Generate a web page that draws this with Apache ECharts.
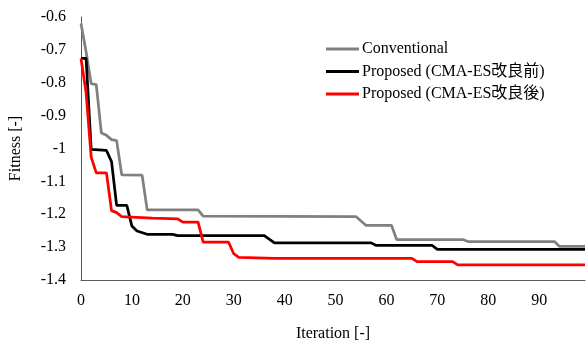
<!DOCTYPE html>
<html>
<head>
<meta charset="utf-8">
<script src="https://cdn.jsdelivr.net/npm/echarts@6/dist/echarts.min.js"></script>
<style>
  html, body { margin: 0; padding: 0; background: #fff; }
  #chart { width: 586px; height: 347px; }
</style>
</head>
<body>
<div id="chart"></div>
<script>
// 系列名
const seriesNames = ['Conventional', 'Proposed (CMA-ES改良前)', 'Proposed (CMA-ES改良後)'];

// Conventional (折れ点)
const convIter = [0, 1, 2, 3, 4, 5, 6, 7, 8, 12, 13, 23, 24, 54, 56, 61, 62, 75, 76, 93, 94, 99];
const convFit = [-0.62, -0.706, -0.803, -0.806, -0.953, -0.96, -0.973, -0.976, -1.08, -1.081, -1.187, -1.187,
  -1.206, -1.207, -1.234, -1.234, -1.277, -1.277, -1.283, -1.283, -1.298, -1.298];

// Proposed 改良前
const beforeIter = [0, 1, 2, 5, 6, 7, 9, 10, 11, 13, 18, 19, 36, 38, 57, 58, 69, 70, 99];
const beforeFit = [-0.726, -0.726, -1.003, -1.006, -1.04, -1.173, -1.173, -1.236, -1.251, -1.261, -1.261,
  -1.265, -1.265, -1.287, -1.287, -1.295, -1.295, -1.307, -1.307];

// Proposed 改良後
const afterIter = [0, 1, 2, 3, 5, 6, 7, 8, 14, 19, 20, 23, 24, 29, 30, 31, 38, 65, 66, 73, 74, 99];
const afterFit = [-0.726, -0.83, -1.026, -1.074, -1.074, -1.189, -1.195, -1.207, -1.212, -1.214, -1.224,
  -1.224, -1.285, -1.285, -1.32, -1.331, -1.334, -1.334, -1.344, -1.344, -1.354, -1.354];

const colors = ['#808080', '#000000', '#ff0000'];
const font = '"Liberation Serif", "Noto Sans CJK JP", serif';

function pairs(xs, ys) {
    return xs.map((x, i) => [x, ys[i]]);
}

const chart = echarts.init(document.getElementById('chart'), null, { renderer: 'canvas' });

chart.setOption({
    animation: false,
    color: colors,
    grid: { left: 75, right: 1, top: 17, bottom: 58 },
    legend: {
        orient: 'vertical',
        left: 321,
        top: 36,
        icon: 'rect',
        itemWidth: 33,
        itemHeight: 3,
        itemGap: 6.5,
        textStyle: { fontFamily: font, fontSize: 16, lineHeight: 16, color: '#000', padding: [0, 0, 0, -2] },
        data: seriesNames
    },
    xAxis: {
        type: 'value',
        min: 0,
        max: 99,
        interval: 10,
        name: 'Iteration [-]',
        nameLocation: 'middle',
        nameGap: 46,
        nameTextStyle: { fontFamily: font, fontSize: 16, color: '#000' },
        axisLine: { lineStyle: { color: '#595959', width: 1 } },
        axisTick: { show: false },
        splitLine: { show: false },
        axisLabel: { fontFamily: font, fontSize: 16, color: '#000', margin: 13, showMaxLabel: false }
    },
    yAxis: {
        type: 'value',
        min: -1.4,
        max: -0.6,
        interval: 0.1,
        name: 'Fitness [-]',
        nameLocation: 'middle',
        nameGap: 57,
        nameTextStyle: { fontFamily: font, fontSize: 16, color: '#000' },
        axisLine: { show: true, onZero: false, lineStyle: { color: '#595959', width: 1 } },
        axisTick: { show: false },
        splitLine: { show: false },
        axisLabel: { fontFamily: font, fontSize: 16, color: '#000', margin: 15 }
    },
    series: [
        {
            name: seriesNames[0], type: 'line', symbol: 'none',
            lineStyle: { width: 2.75, color: colors[0] },
            data: pairs(convIter, convFit)
        },
        {
            name: seriesNames[1], type: 'line', symbol: 'none',
            lineStyle: { width: 2.75, color: colors[1] },
            data: pairs(beforeIter, beforeFit)
        },
        {
            name: seriesNames[2], type: 'line', symbol: 'none',
            lineStyle: { width: 2.75, color: colors[2] },
            data: pairs(afterIter, afterFit)
        }
    ]
});
</script>
</body>
</html>
